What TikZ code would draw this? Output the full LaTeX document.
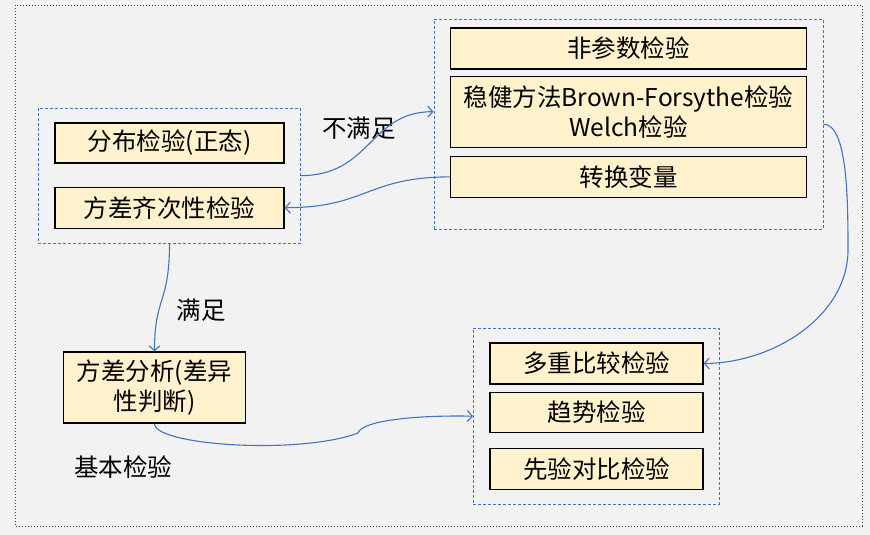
\documentclass[tikz,border=0pt]{standalone}
\usepackage{fontspec}
\setmainfont{Noto Sans CJK SC}
\usepackage{xcolor}
\usepackage{tikz}
\usetikzlibrary{arrows.meta,positioning,fit}
\definecolor{linkblue}{HTML}{4472C4}
\definecolor{boxfill}{HTML}{FFF2CC}
\definecolor{paper}{HTML}{F2F2F2}

\begin{document}
\begin{tikzpicture}[x=1pt,y=-1pt,>={Straight Barb[length=5pt,width=11pt]},
                    test box/.style={draw=black,line width=1.2pt,fill=boxfill,inner sep=0pt,
                                     align=center,font=\fontsize{24.5}{30}\selectfont},
                    group box/.style={draw=linkblue,line width=0.8pt,dash pattern=on 3pt off 2pt,inner xsep=16pt},
                    link/.style={->,draw=linkblue,line width=1.1pt},
                    tag/.style={font=\fontsize{24.5}{30}\selectfont}]

  \fill[paper] (0,0) rectangle (870,535);
  \useasboundingbox (0,0) rectangle (870,535);
  \draw[black!75,line width=0.8pt,dash pattern=on 1pt off 2pt] (15,5) rectangle (862,526);

  % basic tests
  \node[test box,minimum width=229pt,minimum height=40pt] (dist) at (169.5,143) {分布检验(正态)};
  \node[test box,minimum width=229pt,minimum height=41pt] (homo) [below=23pt of dist] {方差齐次性检验};
  \node[group box,inner ysep=14.5pt,fit=(dist) (homo)] (basic) {};

  % when the assumptions fail
  \node[test box,minimum width=356pt,minimum height=41pt] (npar) at (628.5,48.5) {非参数检验};
  \node[test box,minimum width=356pt,minimum height=71pt] (robust) [below=6pt of npar]
    {稳健方法Brown-Forsythe检验\\Welch检验};
  \node[test box,minimum width=356pt,minimum height=41pt] (trans) [below=8pt of robust] {转换变量};
  \coordinate[below=23pt of trans.south] (transpad);
  \node[group box,inner ysep=8pt,fit=(npar) (trans) (transpad)] (alt) {};

  % main analysis
  \node[test box,minimum width=182pt,minimum height=71pt] (anova) at (154.5,387.5) {方差分析(差异\\性判断)};

  % follow-up tests
  \node[test box,minimum width=213pt,minimum height=41pt] (multi) at (596.5,363.5) {多重比较检验};
  \node[test box,minimum width=213pt,minimum height=40pt] (trend) [below=7pt of multi] {趋势检验};
  \node[test box,minimum width=213pt,minimum height=41pt] (prior) [below=15pt of trend] {先验对比检验};
  \node[group box,inner ysep=14pt,fit=(multi) (prior)] (post) {};

  \node[tag] (fail) at (359,128) {不满足};
  \node[tag] (pass) at (201,310) {满足};
  \node[tag] (title) at (123,467) {基本检验};

  \draw[link] (basic.east) .. controls +(70,0) and +(-64,0) .. (alt.west |- robust);
  \draw[link] (trans.west) .. controls +(-83,0) and +(82,0) .. (homo.east);
  \draw[link] (basic.south) .. controls +(0,60) and +(0,-55) .. (anova.north);
  \draw[link] (anova.south) .. controls +(0,22) and (300,455) .. (358,433)
                            .. controls (362,420) and (420,415) .. (post.west);
  \draw[link] (alt.east) .. controls +(24,0) and (848,200) .. (848,250)
                         .. controls (848,315) and (775,363) .. (multi.east);
\end{tikzpicture}
\end{document}
